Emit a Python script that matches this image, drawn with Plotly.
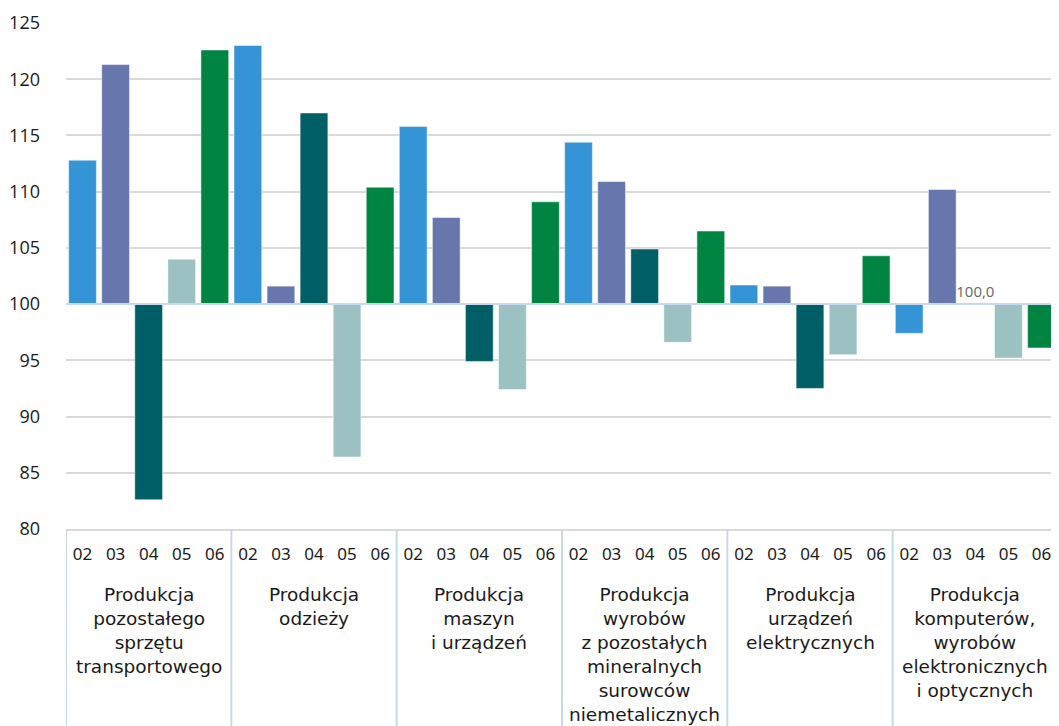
import plotly.graph_objects as go

groups = [
    "Produkcja<br>pozostałego<br>sprzętu<br>transportowego",
    "Produkcja<br>odzieży",
    "Produkcja<br>maszyn<br>i urządzeń",
    "Produkcja<br>wyrobów<br>z pozostałych<br>mineralnych<br>surowców<br>niemetalicznych",
    "Produkcja<br>urządzeń<br>elektrycznych",
    "Produkcja<br>komputerów,<br>wyrobów<br>elektronicznych<br>i optycznych",
]
months = ["02", "03", "04", "05", "06"]

v02 = [112.8, 123.0, 115.8, 114.4, 101.7, 97.4]
v03 = [121.3, 101.6, 107.7, 110.9, 101.6, 110.2]
v04 = [82.6, 117.0, 94.9, 104.9, 92.5, 100.0]
v05 = [104.0, 86.4, 92.4, 96.6, 95.5, 95.2]
v06 = [122.6, 110.4, 109.1, 106.5, 104.3, 96.1]

colors = ["#3594d6", "#6776ad", "#005f66", "#9bc1c3", "#008441"]
series = [v02, v03, v04, v05, v06]

BASE = 100
NM = len(months)
NG = len(groups)

fig = go.Figure()
for mi, (m, vals) in enumerate(zip(months, series)):
    xs = [gi * NM + mi for gi in range(NG)]
    fig.add_trace(go.Bar(
        x=xs, y=[v - BASE for v in vals], base=BASE, name=m, width=0.84,
        marker=dict(color=colors[mi], line=dict(color="rgba(255,255,255,0.5)", width=1)),
        text=[f"{v:.1f}".replace(".", ",") if v == BASE else "" for v in vals],
        textposition="outside", cliponaxis=False, constraintext="none",
        textfont=dict(family="Open Sans", size=15, color="#666666"),
        showlegend=False,
    ))

# baseline at 100
fig.add_shape(type="line", xref="paper", yref="y", x0=0, x1=1, y0=BASE, y1=BASE,
              line=dict(color="#c6d9ef", width=2), layer="above")

# group dividers
for gi in range(NG + 1):
    xd = gi * NM - 0.5
    fig.add_shape(type="line", xref="x", yref="paper", x0=xd, x1=xd, y0=0, y1=-0.40,
                  line=dict(color="#c6d9ef", width=2), layer="above")

# group labels
for gi, g in enumerate(groups):
    fig.add_annotation(x=gi * NM + (NM - 1) / 2, xref="x", y=-0.104, yref="paper",
                       text=g, showarrow=False, xanchor="center", yanchor="top",
                       align="center",
                       font=dict(family="DejaVu Sans", size=18.5, color="#1a1a1a"))

tickvals = [gi * NM + mi for gi in range(NG) for mi in range(NM)]
ticktext = [months[mi] for gi in range(NG) for mi in range(NM)]

fig.update_layout(
    width=1051, height=718,
    margin=dict(l=55, r=1, t=15, b=197),
    plot_bgcolor="white", paper_bgcolor="white",
    barmode="overlay",
    font=dict(family="Noto Sans", size=17, color="#1a1a1a"),
    xaxis=dict(
        range=[-0.5, NG * NM - 0.5],
        tickmode="array", tickvals=tickvals, ticktext=ticktext,
        showgrid=False, showline=True, linecolor="#d9d9d9", linewidth=2,
        zeroline=False, ticks="", ticklabelstandoff=9,
        tickfont=dict(family="Noto Sans", size=17, color="#1a1a1a"),
    ),
    yaxis=dict(
        range=[80, 125], dtick=5, tick0=80,
        showgrid=True, gridcolor="#d9d9d9", gridwidth=2,
        zeroline=False, showline=False, ticks="",
        ticklabelstandoff=25,
        tickfont=dict(family="Open Sans", size=18, color="#1a1a1a"),
    ),
)

fig.write_html("out.html")
